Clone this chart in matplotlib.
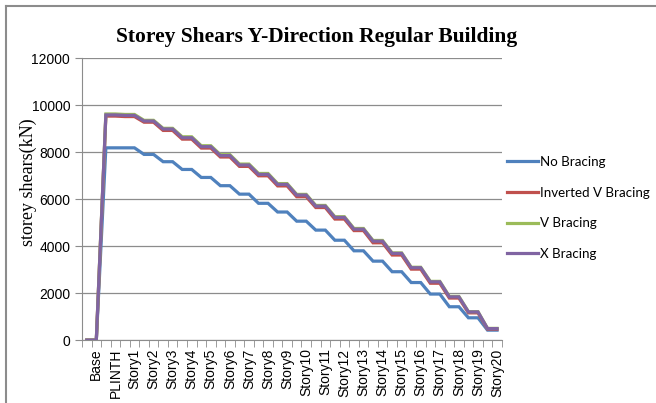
import numpy as np
import matplotlib
matplotlib.use('Agg')
import matplotlib.pyplot as plt
from matplotlib.lines import Line2D

# storey labels (each storey has a top and bottom value in the chart)
storeys = ['Base', 'PLINTH'] + ['Story%d' % i for i in range(1, 21)]

no_bracing = [0, 8180, 8180, 7900, 7590, 7260, 6920, 6570, 6210, 5820, 5450,
              5060, 4680, 4250, 3800, 3360, 2910, 2450, 1960, 1420, 950, 425]
inv_v_bracing = [0, 9530, 9510, 9270, 8920, 8550, 8170, 7790, 7390, 6990, 6560,
                 6100, 5640, 5150, 4660, 4140, 3620, 3020, 2420, 1790, 1160, 470]
v_bracing = [0, 9620, 9600, 9350, 9010, 8650, 8270, 7890, 7490, 7090, 6660,
             6200, 5730, 5250, 4750, 4240, 3710, 3100, 2500, 1860, 1210, 500]
x_bracing = [0, 9580, 9560, 9320, 8980, 8610, 8230, 7850, 7450, 7050, 6625,
             6170, 5700, 5220, 4720, 4210, 3690, 3080, 2480, 1840, 1200, 490]

series = [
    ('No Bracing', no_bracing, '#4F81BD'),
    ('Inverted V Bracing', inv_v_bracing, '#C0504D'),
    ('V Bracing', v_bracing, '#9BBB59'),
    ('X Bracing', x_bracing, '#8064A2'),
]

n_cat = 2 * len(storeys)
x = np.arange(n_cat) + 0.5

fig = plt.figure(figsize=(6.56, 4.03), dpi=100)
ax = fig.add_axes([0.125, 0.156, 0.64, 0.700])

for name, vals, col in series:
    ax.plot(x, np.repeat(vals, 2), color=col, lw=2.3, label=name,
            solid_joinstyle='miter')

ax.set_xlim(0, n_cat)
ax.set_ylim(0, 12000)
ax.set_yticks(np.arange(0, 12001, 2000))
ax.yaxis.grid(True, color='#8c8c8c', lw=0.9)
ax.set_axisbelow(True)

ax.set_xticks(np.arange(len(storeys)) * 2 + 1.5)
ax.set_xticklabels(storeys, rotation=90, fontsize=10, family='Liberation Sans')
ax.set_xticks(np.arange(n_cat + 1), minor=True)
ax.tick_params(axis='x', which='major', length=0, pad=6)
ax.tick_params(axis='x', which='minor', length=5, color='#8c8c8c', direction='out')
ax.tick_params(axis='y', length=5, color='#8c8c8c', labelsize=10)
for lab in ax.get_yticklabels():
    lab.set_family('Liberation Sans')

for s in ['top', 'right']:
    ax.spines[s].set_visible(False)
for s in ['left', 'bottom']:
    ax.spines[s].set_color('#8c8c8c')

ax.set_ylabel('storey shears(kN)', family='Liberation Serif', fontsize=13, labelpad=0)
ax.yaxis.set_label_coords(-0.108, 0.56)
fig.text(0.482, 0.908, 'Storey Shears Y-Direction Regular Building', ha='center',
         va='center', family='Liberation Serif', fontweight='bold', fontsize=15.5)

leg = fig.legend(loc='center left', bbox_to_anchor=(0.771, 0.484), frameon=False,
                 prop={'family': 'Lato', 'size': 9.6}, handlelength=2.3,
                 handletextpad=0.15, labelspacing=1.4, borderaxespad=0, borderpad=0.1)

# chart area border (top and left visible)
fig.add_artist(Line2D([0.009, 1.0], [0.984, 0.984], color='#8c8c8c', lw=1.5))
fig.add_artist(Line2D([0.009, 0.009], [0.0, 0.984], color='#8c8c8c', lw=1.5))

fig.savefig('out.png', dpi=100)
